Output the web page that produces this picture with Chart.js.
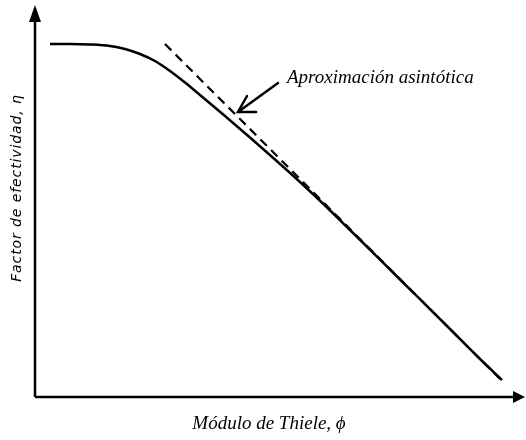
<!DOCTYPE html>
<html>
<head>
<meta charset="utf-8">
<script src="https://cdn.jsdelivr.net/npm/chart.js@4"></script>
<style>
  html, body { margin: 0; padding: 0; background: #fff; }
  #wrap { width: 526px; height: 440px; }
</style>
</head>
<body>
<div id="wrap"><canvas id="c" width="526" height="440"></canvas></div>
<script>
// Thiele modulus (x) and effectiveness factor (y), in plot units
const curveX = [15, 35, 55, 75, 90, 105, 120, 135, 150, 165, 190, 215, 240, 265, 290, 315, 365, 415, 443, 467];
const curveY = [353, 353, 352.5, 351, 348, 343, 336, 326, 314.5, 302, 281, 259.5, 237.5, 215, 191.5, 167, 117.5, 68, 40, 17];
// straight asymptote for large modulus
const asymX = [130, 465];
const asymY = [353, 18];

const xTitle = 'Módulo de Thiele, ϕ';
const yTitle = 'Factor de efectividad, η';
const noteText = 'Aproximación asintótica';

const toPts = (xs, ys) => xs.map((x, i) => ({ x: x, y: ys[i] }));

// axes with arrowheads, titles and the callout arrow
const decorations = {
  id: 'decorations',
  afterDraw(chart) {
    const ctx = chart.ctx;
    const a = chart.chartArea;
    const xs = chart.scales.x, ys = chart.scales.y;
    ctx.save();
    ctx.strokeStyle = '#000';
    ctx.fillStyle = '#000';
    ctx.lineWidth = 2.5;
    // y axis
    ctx.beginPath();
    ctx.moveTo(a.left, a.bottom);
    ctx.lineTo(a.left, a.top + 12);
    ctx.stroke();
    ctx.beginPath();
    ctx.moveTo(a.left, a.top);
    ctx.lineTo(a.left - 6, a.top + 17);
    ctx.lineTo(a.left + 6, a.top + 17);
    ctx.closePath();
    ctx.fill();
    // x axis
    ctx.beginPath();
    ctx.moveTo(a.left, a.bottom);
    ctx.lineTo(a.right - 10, a.bottom);
    ctx.stroke();
    ctx.beginPath();
    ctx.moveTo(a.right, a.bottom);
    ctx.lineTo(a.right - 12, a.bottom - 6);
    ctx.lineTo(a.right - 12, a.bottom + 6);
    ctx.closePath();
    ctx.fill();

    // callout arrow pointing at the asymptote
    const tipX = xs.getPixelForValue(203), tipY = ys.getPixelForValue(285);
    const tailX = xs.getPixelForValue(243), tailY = ys.getPixelForValue(314);
    ctx.lineWidth = 2.5;
    ctx.lineCap = 'round';
    ctx.beginPath();
    ctx.moveTo(tailX, tailY);
    ctx.lineTo(tipX, tipY);
    ctx.moveTo(tipX + 9, tipY - 16);
    ctx.lineTo(tipX, tipY);
    ctx.lineTo(tipX + 18, tipY);
    ctx.stroke();

    // texts
    ctx.textBaseline = 'middle';
    ctx.textAlign = 'left';
    ctx.font = 'italic 19px "Liberation Serif"';
    ctx.fillText(noteText, xs.getPixelForValue(252), ys.getPixelForValue(319));
    ctx.textAlign = 'center';
    ctx.fillText(xTitle, 269, 424);
    ctx.translate(17, 188);
    ctx.rotate(-Math.PI / 2);
    ctx.font = 'italic 14px "DejaVu Sans"';
    ctx.letterSpacing = '0.9px';
    ctx.fillText(yTitle, 0, 0);
    ctx.restore();
  }
};

new Chart(document.getElementById('c'), {
  type: 'line',
  data: {
    datasets: [
      {
        data: toPts(curveX, curveY),
        borderColor: '#000',
        borderWidth: 2.5,
        pointRadius: 0,
        fill: false,
        cubicInterpolationMode: 'monotone'
      },
      {
        data: toPts(asymX, asymY),
        borderColor: '#000',
        borderWidth: 2.2,
        borderDash: [9, 6],
        pointRadius: 0,
        fill: false
      }
    ]
  },
  options: {
    responsive: false,
    animation: false,
    layout: { padding: { left: 35, right: 1, top: 5, bottom: 43 } },
    plugins: { legend: { display: false }, tooltip: { enabled: false } },
    scales: {
      x: { type: 'linear', min: 0, max: 490, display: false },
      y: { type: 'linear', min: 0, max: 392, display: false }
    }
  },
  plugins: [decorations]
});
</script>
</body>
</html>
